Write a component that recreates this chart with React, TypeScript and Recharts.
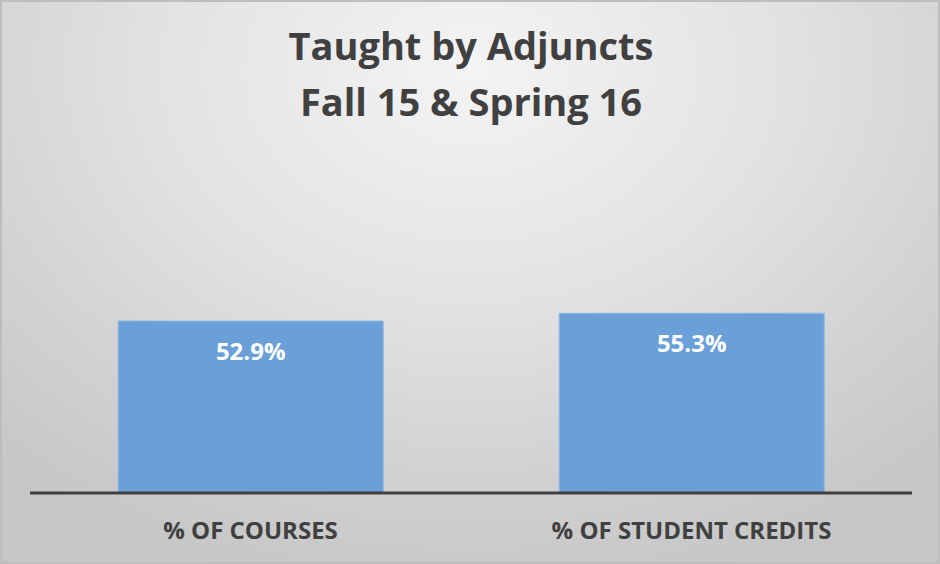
import { BarChart, Bar, XAxis, YAxis, LabelList } from "recharts";

const categories = ["% OF COURSES", "% OF STUDENT CREDITS"];
const adjunctShare = [52.9, 55.3];
const titleLines = ["Taught by Adjuncts", "Fall 15 & Spring 16"];

const data = categories.map((name, i) => ({ name, value: adjunctShare[i] }));

const FONT = "'Open Sans', Lato, sans-serif";

function CategoryTick(props: any) {
  const { x, y, payload } = props;
  return (
    <text
      x={x}
      y={y + 38}
      textAnchor="middle"
      fill="#404040"
      fontFamily={FONT}
      fontWeight={700}
      fontSize={24}
    >
      {payload.value}
    </text>
  );
}

export default function App() {
  return (
    <div
      style={{
        position: "absolute",
        left: 0,
        top: 0,
        width: 940,
        height: 564,
        boxSizing: "border-box",
        border: "2px solid #bdbdbd",
        background:
          "radial-gradient(ellipse 75% 95% at 50% 12%, #f4f4f4 0%, #e2e2e2 45%, #d2d2d2 75%, #c6c6c6 100%)",
        overflow: "hidden",
      }}
    >
      <svg
        width={940}
        height={564}
        style={{ position: "absolute", left: -2, top: -2, pointerEvents: "none" }}
      >
        {titleLines.map((t, i) => (
          <text
            key={t}
            x={471}
            y={60 + i * 56}
            textAnchor="middle"
            fill="#404040"
            fontFamily={FONT}
            fontWeight={700}
            fontSize={38}
          >
            {t}
          </text>
        ))}
      </svg>
      <div style={{ position: "absolute", left: -2, top: -2 }}>
        <BarChart
          width={940}
          height={564}
          data={data}
          margin={{ top: 168, right: 28, bottom: 11, left: 30 }}
          barCategoryGap="20%"
        >
          <YAxis hide domain={[0, 100]} />
          <XAxis
            dataKey="name"
            height={60}
            axisLine={{ stroke: "#404040", strokeWidth: 3 }}
            tickLine={false}
            tick={<CategoryTick />}
            interval={0}
          />
          <Bar
            dataKey="value"
            fill="#6a9fd8"
            stroke="#8db6e2"
            strokeWidth={1}
            isAnimationActive={false}
          >
            <LabelList
              dataKey="value"
              position="insideTop"
              offset={22}
              fill="#ffffff"
              fontFamily={FONT}
              fontWeight={700}
              fontSize={24}
              formatter={(v: any) => `${Number(v).toFixed(1)}%`}
            />
          </Bar>
        </BarChart>
      </div>
    </div>
  );
}
